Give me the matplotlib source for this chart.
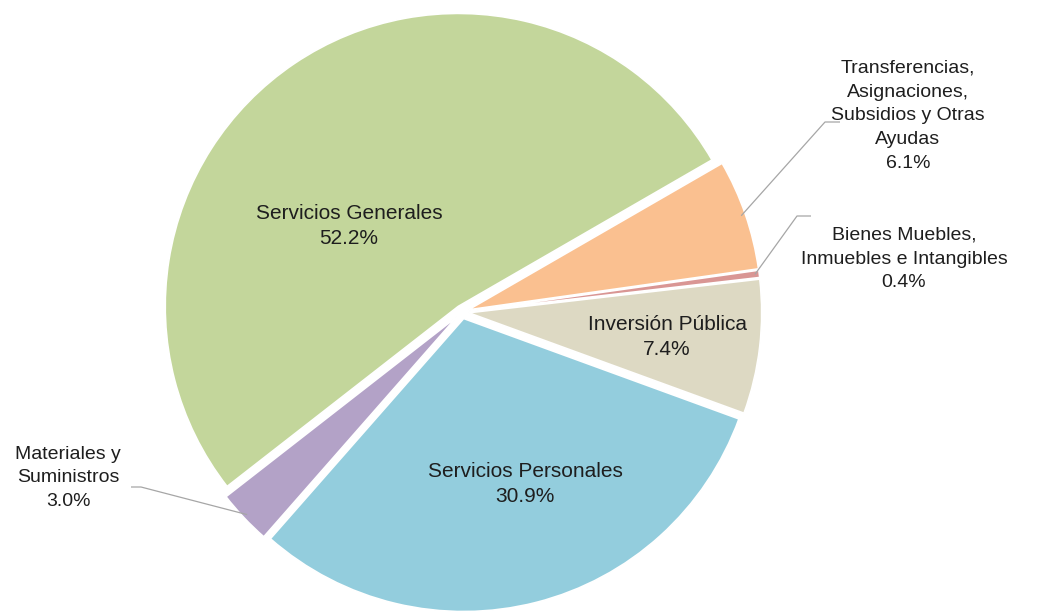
import numpy as np
import matplotlib
matplotlib.use("Agg")
import matplotlib.pyplot as plt

# data (clockwise from the upper right)
categories = [
    "Transferencias,\nAsignaciones,\nSubsidios y Otras\nAyudas",
    "Bienes Muebles,\nInmuebles e Intangibles",
    "Inversión Pública",
    "Servicios Personales",
    "Materiales y\nSuministros",
    "Servicios Generales",
]
shares = [6.1, 0.4, 7.4, 30.9, 3.0, 52.2]
colors = ["#FAC090", "#D99694", "#DDD9C3", "#93CDDD", "#B3A2C7", "#C3D69B"]

# layout in pixels: pie centre and radius
W, H = 1040, 612
CX, CY, R = 462, 312, 293
EXPLODE = 0.023

def px(x, y):
    # pixel position -> data coords (radius = 1)
    return (x - CX) / R, (CY - y) / R

plt.rcParams['font.family'] = ['Liberation Sans', 'DejaVu Sans']

fig = plt.figure(figsize=(W / 100, H / 100), dpi=100)
ax = fig.add_axes([0, 0, 1, 1])

wedges, _ = ax.pie(shares, colors=colors, startangle=30, counterclock=False,
                   explode=[EXPLODE] * len(shares),
                   wedgeprops=dict(edgecolor="white", linewidth=1.2))

ax.set_xlim(-CX / R, (W - CX) / R)
ax.set_ylim(-(H - CY) / R, CY / R)
ax.set_aspect("auto")
ax.axis("off")

txt = dict(color="#1e1e1e", ha="center", va="center")

# label positions (pixels) and whether the label sits inside the pie
label_pos = [(908, 116), (904, 259), (667, 337), (525, 484), (68, 478), (349, 226)]
inside = [False, False, True, True, False, True]
# leader line: elbow point and end point next to the text (pixels)
leaders = {
    0: [(825, 122), (840, 122)],
    1: [(797, 216), (811, 216)],
    4: [(141, 487), (131, 487)],
}

for i, (w, name, val) in enumerate(zip(wedges, categories, shares)):
    label = f"{name}\n{val:.1f}%"
    x, y = px(*label_pos[i])
    if inside[i]:
        ax.text(x, y, label, fontsize=15, linespacing=1.45, **txt)
    else:
        ax.text(x, y, label, fontsize=14, linespacing=1.52, **txt)
    if i in leaders:
        mid = np.deg2rad((w.theta1 + w.theta2) / 2)
        ox, oy = w.center
        ax0 = ox + 0.985 * np.cos(mid)
        ay0 = oy + 0.985 * np.sin(mid)
        pts = [(ax0, ay0)] + [px(*p) for p in leaders[i]]
        xs, ys = zip(*pts)
        ax.plot(xs, ys, color="#A6A6A6", lw=0.9, solid_capstyle="butt")

fig.savefig("out.png", dpi=100, facecolor="white")
